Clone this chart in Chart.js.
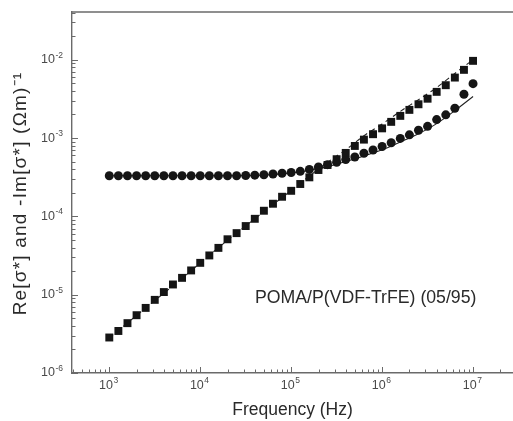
<!DOCTYPE html>
<html>
<head>
<meta charset="utf-8">
<script src="https://cdn.jsdelivr.net/npm/chart.js@4"></script>
<style>
  html, body { margin: 0; padding: 0; background: #fff; }
</style>
</head>
<body>
<canvas id="cond" width="513" height="421"></canvas>
<script>
// Conductivity spectra, POMA/P(VDF-TrFE) (05/95)

// measurement frequencies (Hz), 10 points per decade
const freq = [
  1000, 1259, 1585, 1995, 2512, 3162, 3981, 5012, 6310, 7943,
  10000, 12589, 15849, 19953, 25119, 31623, 39811, 50119, 63096, 79433,
  100000, 125893, 158489, 199526, 251189, 316228, 398107, 501187, 630957, 794328,
  1000000, 1258925, 1584893, 1995262, 2511886, 3162278, 3981072, 5011872, 6309573, 7943282,
  10000000
];

// squares (rising branch)
const sqVals = [
  2.84e-6, 3.44e-6, 4.33e-6, 5.47e-6, 6.78e-6, 8.59e-6, 1.08e-5, 1.35e-5, 1.64e-5, 2.04e-5,
  2.55e-5, 3.17e-5, 3.96e-5, 5.1e-5, 6.11e-5, 7.52e-5, 9.31e-5, 1.18e-4, 1.45e-4, 1.78e-4,
  2.12e-4, 2.59e-4, 3.15e-4, 3.91e-4, 4.53e-4, 5.37e-4, 6.46e-4, 7.93e-4, 9.55e-4, 1.12e-3,
  1.33e-3, 1.61e-3, 1.92e-3, 2.29e-3, 2.70e-3, 3.18e-3, 3.89e-3, 4.73e-3, 5.92e-3, 7.43e-3,
  9.68e-3
];

// circles (plateau then rise)
const ciVals = [
  3.30e-4, 3.30e-4, 3.30e-4, 3.30e-4, 3.30e-4, 3.30e-4, 3.30e-4, 3.30e-4, 3.30e-4, 3.30e-4,
  3.30e-4, 3.30e-4, 3.30e-4, 3.30e-4, 3.30e-4, 3.33e-4, 3.36e-4, 3.40e-4, 3.47e-4, 3.55e-4,
  3.63e-4, 3.76e-4, 3.98e-4, 4.27e-4, 4.57e-4, 4.90e-4, 5.32e-4, 5.73e-4, 6.40e-4, 7.05e-4,
  7.80e-4, 8.71e-4, 9.89e-4, 1.10e-3, 1.26e-3, 1.41e-3, 1.72e-3, 1.98e-3, 2.40e-3, 3.63e-3,
  4.95e-3
];

// fitted curves
const fitFreq = [1000, 2512, 6310, 15849, 39811, 100000, 158489, 251189, 398107, 630957,
  1000000, 1584893, 2511886, 3981072, 6309573, 10000000];
const fitDashed = [2.82e-6, 6.76e-6, 1.62e-5, 3.98e-5, 9.33e-5, 2.14e-4, 3.27e-4, 4.90e-4,
  7.08e-4, 1.07e-3, 1.51e-3, 2.19e-3, 3.09e-3, 4.42e-3, 6.68e-3, 1.0e-2];
const fitSolid = [3.30e-4, 3.30e-4, 3.30e-4, 3.30e-4, 3.33e-4, 3.59e-4, 3.89e-4, 4.32e-4,
  5.01e-4, 5.89e-4, 7.08e-4, 8.91e-4, 1.135e-3, 1.53e-3, 2.24e-3, 3.39e-3];

// axis ticks: mantissa and exponent drawn separately
const xTicks = [1e3, 1e4, 1e5, 1e6, 1e7];
const xTickExp = ['3', '4', '5', '6', '7'];
const yTicks = [1e-6, 1e-5, 1e-4, 1e-3, 1e-2];
const yTickExp = ['-6', '-5', '-4', '-3', '-2'];

const yTitle = 'Re[σ*] and -Im[σ*] (Ωm)⁻¹';
const noteText = 'POMA/P(VDF-TrFE) (05/95)';
const noteAt = { x: 4.0e4, y: 9.0e-6 };

const FONT = '"Liberation Sans", Arial, Helvetica, sans-serif';
const axisColor = '#6a6a6a';
const labelColor = '#4a4a4a';
const textColor = '#2a2a2a';
const ink = '#151515';

const pts = (xs, ys) => xs.map((x, i) => ({ x: x, y: ys[i] }));

// inward tick marks, power-of-ten labels, top frame line, y title and sample label
const frame = {
  id: 'frame',
  afterDraw(chart) {
    const { ctx, chartArea: a } = chart;
    const x = chart.scales.x, y = chart.scales.y;
    ctx.save();
    ctx.strokeStyle = axisColor;
    ctx.lineWidth = 1.4;
    ctx.beginPath();
    ctx.moveTo(a.left, a.top);
    ctx.lineTo(a.right, a.top);
    ctx.stroke();

    ctx.lineWidth = 1;
    ctx.beginPath();
    for (let d = 2; d <= 7; d++) {
      for (let m = 1; m <= 9; m++) {
        const v = m * Math.pow(10, d);
        if (v < x.min || v > x.max) continue;
        const px = Math.round(x.getPixelForValue(v)) + 0.5;
        const len = m === 1 ? 6 : 3.5;
        ctx.moveTo(px, a.bottom);
        ctx.lineTo(px, a.bottom - len);
      }
    }
    for (let d = -7; d <= -2; d++) {
      for (let m = 1; m <= 9; m++) {
        const v = m * Math.pow(10, d);
        if (v < y.min || v > y.max) continue;
        const py = Math.round(y.getPixelForValue(v)) + 0.5;
        const len = m === 1 ? 6 : 3.5;
        ctx.moveTo(a.left, py);
        ctx.lineTo(a.left + len, py);
      }
    }
    ctx.stroke();

    const big = '12.5px ' + FONT, small = '8.5px ' + FONT;
    ctx.fillStyle = labelColor;
    ctx.textBaseline = 'middle';
    ctx.textAlign = 'left';
    xTicks.forEach((v, i) => {
      ctx.font = big;
      const w1 = ctx.measureText('10').width;
      ctx.font = small;
      const w2 = ctx.measureText(xTickExp[i]).width;
      const px = x.getPixelForValue(v);
      const left = px - (w1 + w2) / 2 - 1;
      ctx.font = big;
      ctx.fillText('10', left, 386);
      ctx.font = small;
      ctx.fillText(xTickExp[i], left + w1 + 0.5, 381);
    });
    yTicks.forEach((v, i) => {
      ctx.font = small;
      const w2 = ctx.measureText(yTickExp[i]).width;
      ctx.font = big;
      const w1 = ctx.measureText('10').width;
      const py = y.getPixelForValue(v);
      const right = a.left - 9;
      ctx.fillText('10', right - w2 - w1 - 0.5, py);
      ctx.font = small;
      ctx.fillText(yTickExp[i], right - w2, py - 4.5);
    });

    // y title, rotated, a little letter-spaced like the original
    ctx.save();
    ctx.fillStyle = textColor;
    ctx.font = '19px ' + FONT;
    if ('letterSpacing' in ctx) ctx.letterSpacing = '1.2px';
    ctx.textAlign = 'center';
    ctx.translate(20.5, (a.top + a.bottom) / 2 + 1);
    ctx.rotate(-Math.PI / 2);
    ctx.fillText(yTitle, 0, 0);
    ctx.restore();

    ctx.fillStyle = textColor;
    ctx.font = '17.7px ' + FONT;
    ctx.fillText(noteText, x.getPixelForValue(noteAt.x), y.getPixelForValue(noteAt.y));
    ctx.restore();
  }
};

new Chart(document.getElementById('cond'), {
  type: 'scatter',
  data: {
    datasets: [
      {
        label: 'squares',
        data: pts(freq, sqVals),
        pointStyle: 'rect',
        pointRadius: 5.6,
        backgroundColor: ink,
        borderColor: ink,
        borderWidth: 0,
        showLine: false,
        order: 0
      },
      {
        label: 'circles',
        data: pts(freq, ciVals),
        pointStyle: 'circle',
        pointRadius: 4.5,
        backgroundColor: ink,
        borderColor: ink,
        borderWidth: 0,
        showLine: false,
        order: 0
      },
      {
        label: 'fit dashed',
        data: pts(fitFreq, fitDashed),
        showLine: true,
        pointRadius: 0,
        borderColor: '#222',
        borderWidth: 1.1,
        borderDash: [5, 4],
        cubicInterpolationMode: 'monotone',
        order: 1
      },
      {
        label: 'fit solid',
        data: pts(fitFreq, fitSolid),
        showLine: true,
        pointRadius: 0,
        borderColor: '#222',
        borderWidth: 1.1,
        cubicInterpolationMode: 'monotone',
        order: 1
      }
    ]
  },
  options: {
    responsive: false,
    animation: false,
    layout: { autoPadding: false, padding: { top: 12, right: 0, bottom: 0, left: 0 } },
    plugins: {
      legend: { display: false },
      tooltip: { enabled: false }
    },
    scales: {
      x: {
        type: 'logarithmic',
        min: 389,
        max: 2.75e7,
        grid: { display: false },
        border: { display: true, color: axisColor, width: 1.4 },
        afterBuildTicks: (s) => { s.ticks = xTicks.map(v => ({ value: v })); },
        afterFit: (s) => { s.height = 48; },
        ticks: { display: false },
        title: {
          display: true,
          text: 'Frequency (Hz)',
          color: textColor,
          font: { family: FONT, size: 17.5 },
          padding: { top: 1.5, bottom: 0 }
        }
      },
      y: {
        type: 'logarithmic',
        min: 1e-6,
        max: 0.0407,
        grid: { display: false },
        border: { display: true, color: axisColor, width: 1.4 },
        afterBuildTicks: (s) => { s.ticks = yTicks.map(v => ({ value: v })); },
        afterFit: (s) => { s.width = 72; },
        ticks: { display: false },
        title: { display: false }
      }
    }
  },
  plugins: [frame]
});
</script>
</body>
</html>
